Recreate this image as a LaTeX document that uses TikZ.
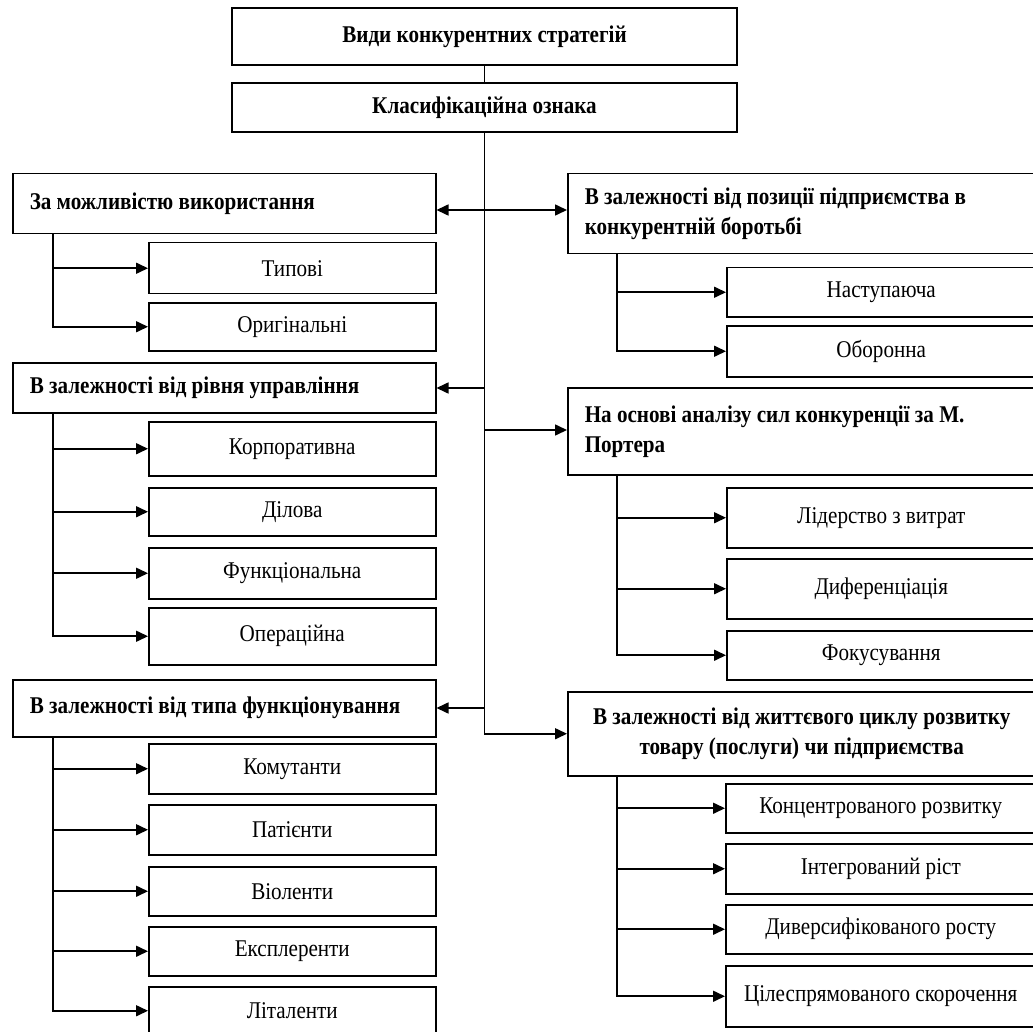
\documentclass[tikz,border=0pt]{standalone}
\usepackage{fontspec}
\setmainfont{Liberation Serif}[FakeStretch=0.88]
\usetikzlibrary{arrows.meta}
\begin{document}
\begin{tikzpicture}[x=1pt,y=-1pt,
    every node/.style={font=\fontsize{24}{30}\selectfont},
    topbox/.style={draw,line width=1.5pt,minimum width=505pt,font=\fontsize{24}{30}\selectfont\bfseries},
    critbox/.style={draw,line width=1.5pt,anchor=north west,align=flush left,inner xsep=17pt,font=\fontsize{24}{30}\selectfont\bfseries},
    leafbox/.style={draw,line width=1.5pt,anchor=north west,inner sep=0pt},
    wire/.style={line width=1.6pt},
    arr/.style={line width=1.6pt,-{Triangle[length=12pt,width=11pt]}}]
  \useasboundingbox (0,0) rectangle (1033,1032);
  \node[topbox,minimum height=57pt] (vydy) at (484.5,36.5) {Види конкурентних стратегій};
  \node[topbox,minimum height=49pt] (oznaka) at (484.5,107.5) {Класифікаційна ознака};
  % left
  \node[critbox,text width=389pt,minimum height=60pt] (use) at (12,173) {За можливістю використання};
  \node[leafbox,minimum width=287pt,minimum height=51pt] (typ) at (148,242) {Типові};
  \node[leafbox,minimum width=287pt,minimum height=48pt] (orig) at (148,302) {Оригінальні};
  \node[critbox,text width=389pt,minimum height=50pt] (level) at (12,362) {В залежності від рівня управління};
  \node[leafbox,minimum width=287pt,minimum height=54pt] (corp) at (148,421) {Корпоративна};
  \node[leafbox,minimum width=287pt,minimum height=48pt] (busi) at (148,487) {Ділова};
  \node[leafbox,minimum width=287pt,minimum height=51pt] (funk) at (148,547) {Функціональна};
  \node[leafbox,minimum width=287pt,minimum height=57pt] (oper) at (148,607) {Операційна};
  \node[critbox,text width=389pt,minimum height=57pt] (func) at (12,679) {В залежності від типа функціонування};
  \node[leafbox,minimum width=287pt,minimum height=50pt] (kom) at (148,743) {Комутанти};
  \node[leafbox,minimum width=287pt,minimum height=50pt] (pat) at (148,804) {Патієнти};
  \node[leafbox,minimum width=287pt,minimum height=49pt] (viol) at (148,866) {Віоленти};
  \node[leafbox,minimum width=287pt,minimum height=49pt] (ekspl) at (148,926) {Експлеренти};
  \node[leafbox,minimum width=287pt,minimum height=48pt] (lit) at (148,986) {Літаленти};
  % right
  \node[critbox,text width=434pt,minimum height=80pt] (pos) at (567,173) {В залежності від позиції підприємства в\\конкурентній боротьбі};
  \node[leafbox,minimum width=309pt,minimum height=49pt] (nast) at (726,267) {Наступаюча};
  \node[leafbox,minimum width=309pt,minimum height=51pt] (obor) at (726,325) {Оборонна};
  \node[critbox,text width=434pt,minimum height=87pt] (porter) at (567,387) {На основі аналізу сил конкуренції за М.\\Портера};
  \node[leafbox,minimum width=309pt,minimum height=60pt] (lid) at (726,487) {Лідерство з витрат};
  \node[leafbox,minimum width=309pt,minimum height=60pt] (dyf) at (726,558) {Диференціація};
  \node[leafbox,minimum width=309pt,minimum height=49pt] (fok) at (726,630) {Фокусування};
  \node[critbox,text width=434pt,minimum height=84pt,align=flush center] (life) at (567,691) {В залежності від життєвого циклу розвитку\\товару (послуги) чи підприємства};
  \node[leafbox,minimum width=310pt,minimum height=49pt] (konc) at (725,783) {Концентрованого розвитку};
  \node[leafbox,minimum width=310pt,minimum height=50pt] (intg) at (725,843) {Інтегрований ріст};
  \node[leafbox,minimum width=310pt,minimum height=49pt] (dyvr) at (725,904) {Диверсифікованого росту};
  \node[leafbox,minimum width=310pt,minimum height=61pt] (skor) at (725,965) {Цілеспрямованого скорочення};
  % trunk
  \coordinate (j1) at (484.5,210);
  \coordinate (j2) at (484.5,388);
  \coordinate (j3) at (484.5,430);
  \coordinate (j4) at (484.5,708);
  \draw[wire] (vydy) -- (oznaka);
  \draw[arr] (oznaka.south) |- (life.west);
  \draw[arr] (j1) -- (j1 -| use.east);
  \draw[arr] (j1) -- (j1 -| pos.west);
  \draw[arr] (j2) -- (j2 -| level.east);
  \draw[arr] (j3) -- (j3 -| porter.west);
  \draw[arr] (j4) -- (j4 -| func.east);
  % branches
  \draw[arr] (use.south -| 53,0) |- (orig.west);
  \draw[arr] (typ.west -| 53,0) -- (typ.west);
  \draw[arr] (level.south -| 53,0) |- (oper.west);
  \draw[arr] (corp.west -| 53,0) -- (corp.west);
  \draw[arr] (busi.west -| 53,0) -- (busi.west);
  \draw[arr] (funk.west -| 53,0) -- (funk.west);
  \draw[arr] (func.south -| 53,0) |- (lit.west);
  \draw[arr] (kom.west -| 53,0) -- (kom.west);
  \draw[arr] (pat.west -| 53,0) -- (pat.west);
  \draw[arr] (viol.west -| 53,0) -- (viol.west);
  \draw[arr] (ekspl.west -| 53,0) -- (ekspl.west);
  \draw[arr] (pos.south -| 617,0) |- (obor.west);
  \draw[arr] (nast.west -| 617,0) -- (nast.west);
  \draw[arr] (porter.south -| 617,0) |- (fok.west);
  \draw[arr] (lid.west -| 617,0) -- (lid.west);
  \draw[arr] (dyf.west -| 617,0) -- (dyf.west);
  \draw[arr] (life.south -| 617,0) |- (skor.west);
  \draw[arr] (konc.west -| 617,0) -- (konc.west);
  \draw[arr] (intg.west -| 617,0) -- (intg.west);
  \draw[arr] (dyvr.west -| 617,0) -- (dyvr.west);
\end{tikzpicture}
\end{document}
